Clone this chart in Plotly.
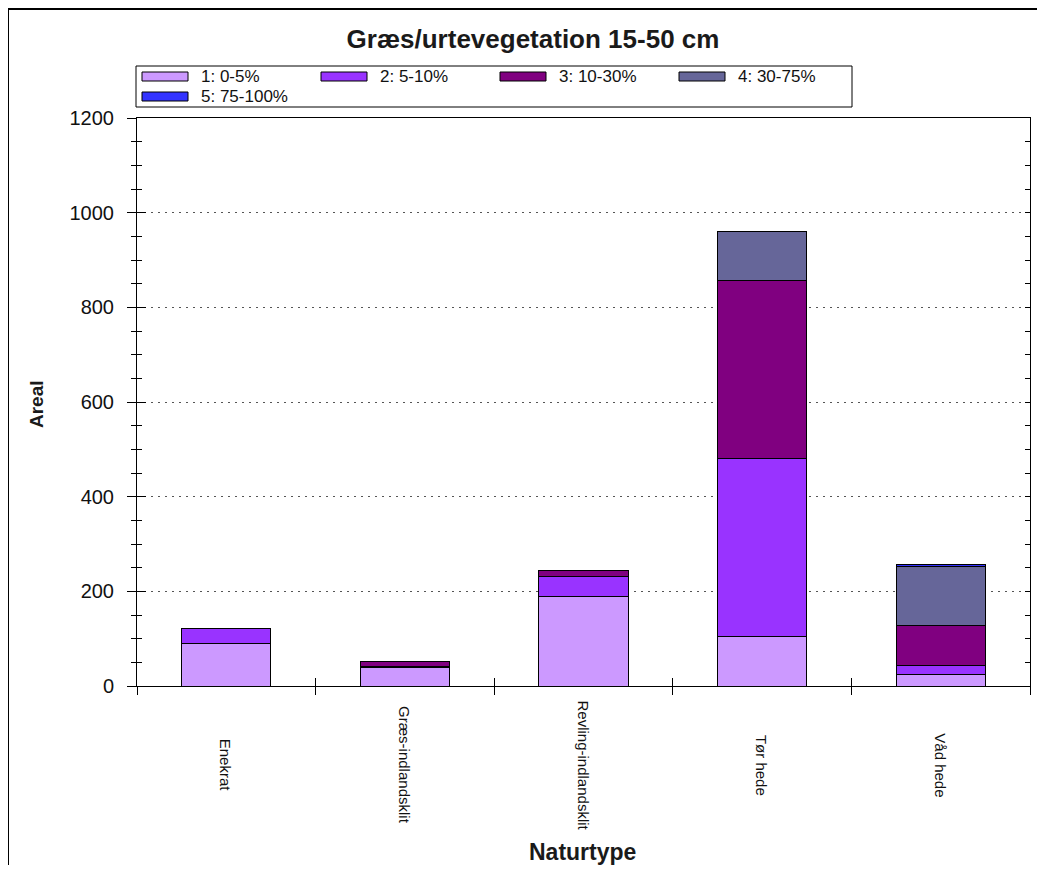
import plotly.graph_objects as go

categories = ["Enekrat", "Græs-indlandsklit", "Revling-indlandsklit", "Tør hede", "Våd hede"]
series_names = ["1: 0-5%", "2: 5-10%", "3: 10-30%", "4: 30-75%", "5: 75-100%"]
s1 = [89, 39, 189, 104, 25]
s2 = [33, 2, 42, 377, 19]
s3 = [0, 11, 13, 375, 84]
s4 = [0, 0, 0, 104, 124]
s5 = [0, 0, 0, 0, 5]
series_values = [s1, s2, s3, s4, s5]
colors = ["#CC99FF", "#9933FF", "#800080", "#666699", "#3333FF"]

title_text = "Græs/urtevegetation 15-50 cm"
x_title = "Naturtype"
y_title = "Areal"

# page is offset by the 8px body margin
OFF = 8
FW, FH = 1030, 857
PL, PT, PR, PB = 137, 118, 1030, 686          # plot area in page pixels
L, T = PL - OFF, PT - OFF
R, B = FW + OFF - PR, FH + OFF - PB
PW, PH = PR - PL, PB - PT


def px(xp):
    return (xp - PL) / PW


def py(yp):
    return (PB - yp) / PH


base_font = "Liberation Sans, Arial, sans-serif"

fig = go.Figure()
for name, vals, col in zip(series_names, series_values, colors):
    fig.add_trace(go.Bar(x=categories, y=vals, name=name, showlegend=False,
                         marker=dict(color=col, line=dict(color="black", width=1))))

# helper (empty) traces so the overlay axes carrying inner ticks get drawn
fig.add_trace(go.Scatter(x=[None], y=[None], xaxis="x2", yaxis="y2", showlegend=False,
                         hoverinfo="skip", mode="markers"))
fig.add_trace(go.Scatter(x=[None], y=[None], xaxis="x", yaxis="y3", showlegend=False,
                         hoverinfo="skip", mode="markers"))

fig.update_layout(
    width=FW, height=FH,
    margin=dict(l=L, r=R, t=T, b=B, autoexpand=False),
    paper_bgcolor="white", plot_bgcolor="white",
    barmode="stack", bargap=0.5, showlegend=False,
    font=dict(family=base_font, color="black"),
    title=dict(text=title_text, x=px(533), xref="paper", xanchor="center",
               y=1 - (39 - OFF) / FH, yref="container", yanchor="middle",
               font=dict(size=26, weight="bold", family=base_font, color="#1a1a1a")),
    xaxis=dict(type="category", categoryorder="array", categoryarray=categories,
               tickson="boundaries", ticks="outside", ticklen=8,
               tickcolor="black", showticklabels=False, showline=True, linecolor="black",
               linewidth=1, mirror=True, showgrid=False, fixedrange=True),
    xaxis2=dict(overlaying="x", anchor="y2", side="bottom", range=[-0.5, 4.5],
                tick0=-0.5, dtick=1, ticks="inside", ticklen=8, tickcolor="black",
                showticklabels=False, showline=False, showgrid=False, zeroline=False),
    yaxis=dict(range=[0, 1200], dtick=200, ticks="outside", ticklen=9, tickcolor="black",
               minor=dict(dtick=50, ticks="outside", ticklen=5, tickcolor="black", showgrid=False),
               showline=True, linecolor="black", linewidth=1,
               showgrid=True, gridcolor="#555", griddash="2px,5px", gridwidth=1,
               zeroline=False, ticklabelstandoff=9,
               tickfont=dict(size=20, family=base_font, color="#111")),
    yaxis2=dict(overlaying="y", anchor="x2", side="left", range=[0, 1200], dtick=200,
                ticks="inside", ticklen=9, tickcolor="black",
                minor=dict(dtick=50, ticks="inside", ticklen=5, tickcolor="black"),
                showticklabels=False, showline=False, showgrid=False, zeroline=False),
    yaxis3=dict(overlaying="y", anchor="x", side="right", range=[0, 1200], dtick=200,
                ticks="inside", ticklen=5, tickcolor="black",
                minor=dict(dtick=50, ticks="inside", ticklen=5, tickcolor="black"),
                showticklabels=False, showline=True, linecolor="black", showgrid=False,
                zeroline=False),
)

# category labels, rotated and centred below the axis
for c in categories:
    fig.add_annotation(x=c, xref="x", y=py(765), yref="paper", text=c,
                       textangle=90, showarrow=False, xanchor="center", yanchor="middle",
                       font=dict(size=15, family=base_font, color="#111"))

# axis titles
fig.add_annotation(x=px(582), xref="paper", y=py(852), yref="paper", text=x_title,
                   showarrow=False, xanchor="center", yanchor="middle",
                   font=dict(size=23, weight="bold", family=base_font, color="#1a1a1a"))
fig.add_annotation(x=px(36), xref="paper", y=py(404), yref="paper", text=y_title,
                   textangle=-90, showarrow=False, xanchor="center", yanchor="middle",
                   font=dict(size=19, weight="bold", family=base_font, color="#1a1a1a"))

# legend box drawn from the series list
fig.add_shape(type="rect", xref="paper", yref="paper", x0=px(136), x1=px(852),
              y0=py(107), y1=py(66), line=dict(color="black", width=1), fillcolor="white")
for i, (name, col) in enumerate(zip(series_names, colors)):
    cx, rw = i % 4, i // 4
    x0 = 142 + 179 * cx
    y0 = 72 + 20 * rw
    fig.add_shape(type="rect", xref="paper", yref="paper", x0=px(x0), x1=px(x0 + 46),
                  y0=py(y0 + 9), y1=py(y0), line=dict(color="black", width=1), fillcolor=col)
    fig.add_annotation(x=px(x0 + 57), xref="paper", y=py(y0 + 4.5), yref="paper", text=name,
                       showarrow=False, xanchor="left", yanchor="middle",
                       font=dict(size=17, family=base_font, color="#111"))

# outer frame (left and top lines)
fx = px(OFF)
ft = py(9)
fig.add_shape(type="line", xref="paper", yref="paper", x0=fx, x1=fx, y0=py(900), y1=ft,
              line=dict(color="black", width=2))
fig.add_shape(type="line", xref="paper", yref="paper", x0=fx, x1=px(1037), y0=ft, y1=ft,
              line=dict(color="black", width=2))

fig.write_html("out.html")
